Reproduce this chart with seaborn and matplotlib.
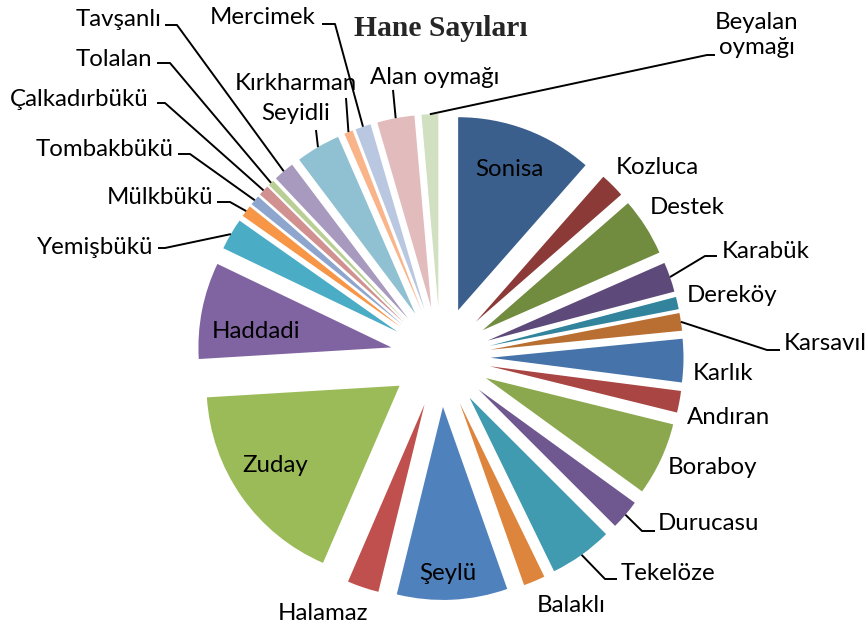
import numpy as np
import matplotlib
matplotlib.use("Agg")
import matplotlib.pyplot as plt
import seaborn as sns

sns.set_style("white")
plt.rcParams['font.family'] = ['Lato', 'DejaVu Sans']

# ---- data (estimated household counts) ----
villages = ["Sonisa", "Kozluca", "Destek", "Karabük", "Dereköy", "Karsavıl",
            "Karlık", "Andıran", "Boraboy", "Durucasu", "Tekelöze", "Balaklı",
            "Şeylü", "Halamaz", "Zuday", "Haddadi", "Yemişbükü", "Mülkbükü",
            "Tombakbükü", "Çalkadırbükü", "Tolalan", "Tavşanlı", "Seyidli",
            "Kırkharman", "Mercimek", "Alan oymağı", "Beyalan\noymağı"]
households = [41.2, 7.5, 17.4, 9.0, 3.7, 5.3,
              13.0, 6.5, 22.0, 9.0, 19.0, 6.5,
              33.2, 9.5, 63.0, 29.0, 9.5, 3.5,
              3.0, 3.2, 1.8, 6.3, 13.4,
              2.6, 4.7, 11.2, 5.0]
title = "Hane Sayıları"

colors = ["#3A5F8C", "#8B3A38", "#718B3F", "#5E4A7A", "#31849B", "#B96F32",
          "#4573AA", "#A94643", "#8BA84F", "#6F5790", "#409AB0", "#DD853D",
          "#4F81BD", "#C0504D", "#9BBB59", "#8064A2", "#4BACC6", "#F79646",
          "#8EA5CE", "#D09190", "#B9CF96", "#A899BF", "#8FC1D3", "#F9B48A",
          "#B9C7E1", "#E2BCBC", "#D1E0C0"]

W, H = 868, 627
fig = plt.figure(figsize=(W / 100, H / 100), dpi=100)
ax = fig.add_axes([0, 0, 1, 1])

cx, cy, R, EXP = 440.5, H - 357, 193, 50
wedges, _ = ax.pie(households, colors=colors, startangle=90, counterclock=False,
                   center=(cx, cy), radius=R, explode=[EXP] * len(households),
                   wedgeprops=dict(linewidth=0))
ax.set_xlim(0, W)
ax.set_ylim(0, H)
ax.set_aspect('auto')
ax.axis('off')

def py(y):
    return H - y

# label layout (pixel coords, y from top): x, y, ha
label_pos = {
    "Sonisa": (509, 170, 'center'),
    "Kozluca": (616, 168, 'left'),
    "Destek": (650, 208, 'left'),
    "Karabük": (722, 251, 'left'),
    "Dereköy": (687, 296, 'left'),
    "Karsavıl": (784, 344, 'left'),
    "Karlık": (693, 373, 'left'),
    "Andıran": (687, 417, 'left'),
    "Boraboy": (668, 467, 'left'),
    "Durucasu": (658, 524, 'left'),
    "Tekelöze": (621, 573, 'left'),
    "Balaklı": (537, 605, 'left'),
    "Şeylü": (448, 574, 'center'),
    "Halamaz": (323, 613, 'center'),
    "Zuday": (275, 465, 'center'),
    "Haddadi": (256, 331, 'center'),
    "Yemişbükü": (153, 247, 'right'),
    "Mülkbükü": (213, 198, 'right'),
    "Tombakbükü": (174, 150, 'right'),
    "Çalkadırbükü": (149, 100, 'right'),
    "Tolalan": (152, 60, 'right'),
    "Tavşanlı": (161, 20, 'right'),
    "Seyidli": (296, 113, 'center'),
    "Kırkharman": (296, 83, 'center'),
    "Mercimek": (316, 17, 'right'),
    "Alan oymağı": (435, 77, 'center'),
    "Beyalan\noymağı": (757, 35, 'center'),
}
leaders = {
    "Karabük": [(705, 256), (717, 256)],
    "Karsavıl": [(767, 350), (780, 350)],
    "Durucasu": [(642, 531), (655, 531)],
    "Tekelöze": [(605, 579), (617, 579)],
    "Yemişbükü": [(165, 248), (158, 248)],
    "Mülkbükü": [(230, 202), (217, 202)],
    "Tombakbükü": [(190, 154), (178, 154)],
    "Çalkadırbükü": [(165, 103), (157, 103)],
    "Tolalan": [(170, 63), (157, 63)],
    "Tavşanlı": [(177, 25), (165, 25)],
    "Mercimek": [(335, 24), (322, 24)],
    "Kırkharman": [(346, 98)],
    "Seyidli": [(316, 130)],
    "Alan oymağı": [(393, 90)],
    "Beyalan\noymağı": [(707, 55), (715, 55)],
}

FS = 17.3
for w, name in zip(wedges, villages):
    x, y, ha = label_pos[name]
    ax.text(x, py(y), name, ha=ha, va='center', fontsize=FS, color='black',
            linespacing=1.25)
    if name in leaders:
        tm = np.deg2rad((w.theta1 + w.theta2) / 2)
        ax0 = w.center[0] + w.r * np.cos(tm)
        ay0 = w.center[1] + w.r * np.sin(tm)
        xs = [ax0] + [p[0] for p in leaders[name]]
        ys = [ay0] + [py(p[1]) for p in leaders[name]]
        ax.plot(xs, ys, color='black', lw=1.4, solid_capstyle='butt')

ax.text(441, py(28), title, ha='center', va='center', fontsize=21.3,
        fontweight='bold', family=['Liberation Serif', 'DejaVu Serif'])

fig.savefig("out.png", dpi=100)
